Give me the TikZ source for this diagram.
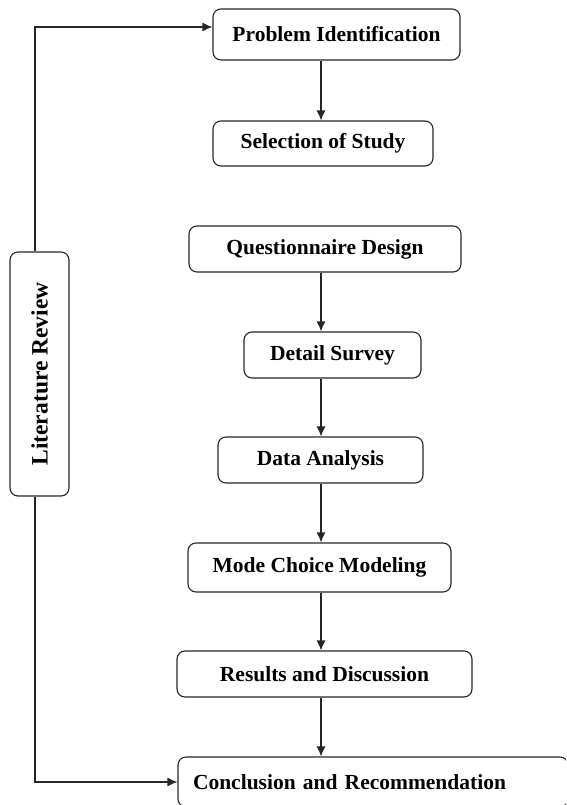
\documentclass[tikz,border=0pt]{standalone}
\usepackage{fontspec}
\setmainfont{Liberation Serif}
\usetikzlibrary{arrows.meta}
\begin{document}
\begin{tikzpicture}[x=1pt,y=-1pt,
  box/.style={draw=black!85, line width=1.1pt, rounded corners=8pt, inner sep=0pt,
    font=\fontsize{21.5}{24}\selectfont\bfseries, align=center},
  arr/.style={draw=black!85, line width=1.2pt, -{Latex[length=10pt,width=9pt]}}]
\useasboundingbox (0,0) rectangle (566,805);
\begin{scope}
\clip (0,0) rectangle (566,805);
\node[box, minimum width=247pt, minimum height=51pt] (pi) at (336.5,34.5) {Problem Identification};
\node[box, minimum width=220pt, minimum height=45pt] (ss) at (323,143.5) {Selection of Study};
\node[box, minimum width=272pt, minimum height=46pt] (qd) at (325,249) {Questionnaire Design};
\node[box, minimum width=177pt, minimum height=46pt] (ds) at (332.5,355) {Detail Survey};
\node[box, minimum width=205pt, minimum height=46pt] (da) at (320.5,460) {Data Analysis};
\node[box, minimum width=263pt, minimum height=49pt] (mcm) at (319.5,567.5) {Mode Choice Modeling};
\node[box, minimum width=295pt, minimum height=46pt] (rd) at (324.5,674) {Results and Discussion};
\node[box, minimum width=390pt, minimum height=50pt, text width=390pt, align=left] (cr) at (373,782) {\hspace*{15pt}Conclusion and Recommendation};
\node[box, rotate=90, minimum width=244pt, minimum height=59pt, font=\fontsize{23.5}{26}\selectfont\bfseries] (lr) at (39.5,374) {Literature Review};
\coordinate (col) at (321,0);
\coordinate (lcol) at (35,0);
\draw[arr] (pi.south -| col) -- (ss.north -| col);
\draw[arr] (qd.south -| col) -- (ds.north -| col);
\draw[arr] (ds.south -| col) -- (da.north -| col);
\draw[arr] (da.south -| col) -- (mcm.north -| col);
\draw[arr] (mcm.south -| col) -- (rd.north -| col);
\draw[arr] (rd.south -| col) -- (cr.north -| col);
\draw[arr] (lr.east -| lcol) |- ([yshift=7.5pt]pi.west);
\draw[arr] (lr.west -| lcol) |- (cr.west);
\end{scope}
\end{tikzpicture}
\end{document}
